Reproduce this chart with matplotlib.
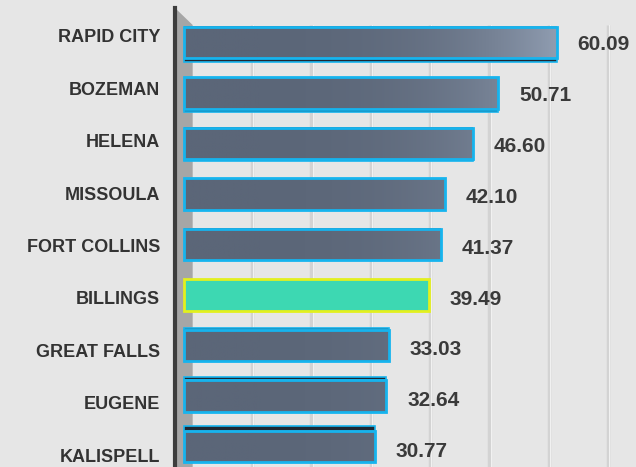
import matplotlib.pyplot as plt
import numpy as np
from matplotlib.colors import LinearSegmentedColormap

plt.rcParams['font.family'] = ['Liberation Sans', 'DejaVu Sans']

cities = ['RAPID CITY', 'BOZEMAN', 'HELENA', 'MISSOULA', 'FORT COLLINS',
          'BILLINGS', 'GREAT FALLS', 'EUGENE', 'KALISPELL']
values = [60.09, 50.71, 46.60, 42.10, 41.37, 39.49, 33.03, 32.64, 30.77]
highlight = 'BILLINGS'

# fake 3d: thickness (px) of the visible top/bottom face for each bar
depth_px = [4, 3, 2, 0, 0, 0, 2, 3, 5]

W, H = 636, 467
bg = '#e6e6e6'
fig = plt.figure(figsize=(W / 100, H / 100), dpi=100, facecolor=bg)
rect = [175 / W, 0, 1 - 175 / W, 459 / H]

# back plane: wall, grid, category labels
back = fig.add_axes(rect)
back.set_facecolor(bg)
bx0, bx1 = -2.98, 74.72
by_bot, by_top = 8.225, -0.534
wall_top = -0.21
back.fill([bx0, 0, 0, bx0], [by_top, wall_top, by_bot, by_bot], color='#a6a6a6', lw=0)
for g in range(10, 80, 10):
    back.plot([g, g], [wall_top, by_bot], color='#d3d3d3', lw=2.5, solid_capstyle='butt')
    back.plot([g + 0.2, g + 0.2], [wall_top, by_bot], color='#f2f2f2', lw=0.7)
back.set_xlim(bx0, bx1)
back.set_ylim(by_bot, by_top)
for s in ['top', 'right', 'bottom']:
    back.spines[s].set_visible(False)
back.spines['left'].set_color('#3d3d3d')
back.spines['left'].set_linewidth(3)
back.set_xticks([])
back.set_yticks(range(len(cities)))
back.set_yticklabels(cities, fontsize=13, fontweight='bold', color='#333333')
back.tick_params(axis='y', length=0, pad=10.8)

# front plane: bars
ax = fig.add_axes(rect)
ax.patch.set_alpha(0)
cmap = LinearSegmentedColormap.from_list('slate', ['#5b6678', '#8f9cb0'])
hf = 0.62
for i, (c, v) in enumerate(zip(cities, values)):
    d = depth_px[i] / 50.5
    if d > 0:
        yc = i + hf / 2 + d / 2 if i < 5 else i - hf / 2 - d / 2
        ax.barh(yc, v, height=d, color='#1e2732', edgecolor='#16b4ee', lw=1.2, zorder=2)
    if c == highlight:
        ax.barh(i, v, height=hf, color='#3dd8b2', edgecolor='#e3f01e', lw=2, zorder=4)
    else:
        x = np.linspace(0, v, 200)
        grad = ((x / 60) ** 3.5)[None, :]
        ax.imshow(grad, cmap=cmap, vmin=0, vmax=1, aspect='auto', interpolation='bilinear',
                  extent=[0, v, i + hf / 2, i - hf / 2], zorder=3)
        ax.barh(i, v, height=hf, fill=False, edgecolor='#16b4ee', lw=2, zorder=4)
    ax.text(v + 3.4, i + 0.04 + 0.008 * i, f'{v:.2f}', va='center', ha='left', fontsize=15,
            fontweight='bold', color='#3a3a3a')

ax.set_xlim(-1.45, 72.9)
ax.set_ylim(8.406, -0.683)
ax.axis('off')

fig.savefig('out.png', dpi=100, facecolor=bg)
